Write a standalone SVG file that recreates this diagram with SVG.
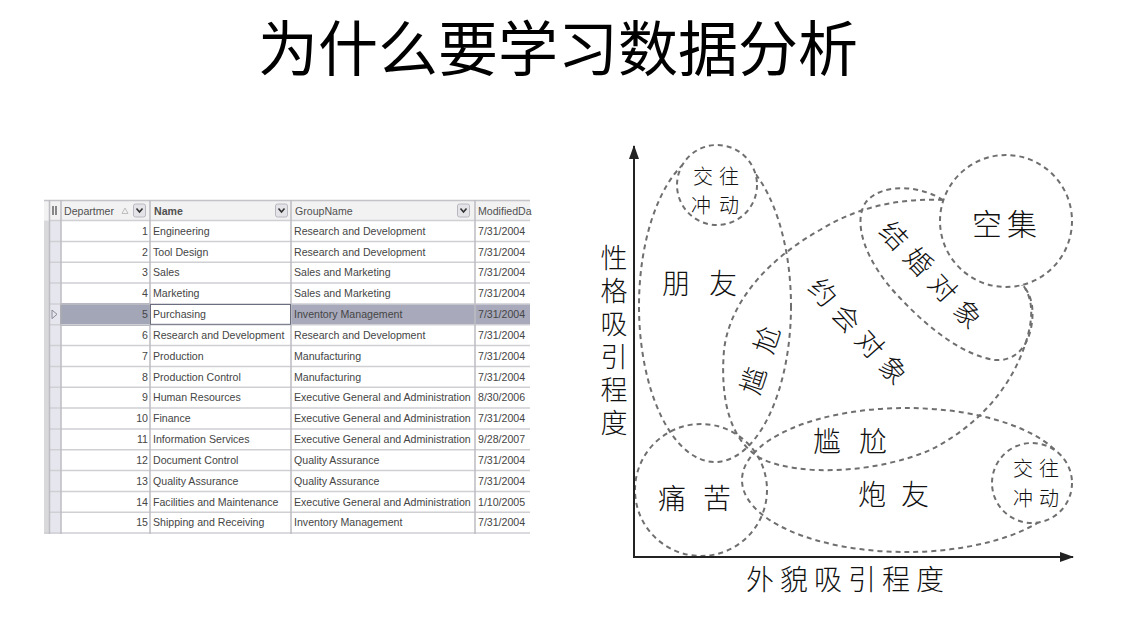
<svg xmlns="http://www.w3.org/2000/svg" width="1135" height="634" viewBox="0 0 1135 634">
<defs>
<style>
.title{font-family:"Noto Sans CJK SC","Noto Sans",sans-serif;font-size:60px;fill:#000;}
.t{font-family:"Liberation Sans",Arial,sans-serif;font-size:10.6px;fill:#454545;}
.n{font-family:"Liberation Sans",Arial,sans-serif;font-size:10.6px;fill:#454545;text-anchor:end;}
.h{font-family:"Liberation Sans",Arial,sans-serif;font-size:10.6px;fill:#505050;}
.grid{stroke:#cfcfd4;stroke-width:1.5;}
.vgrid{stroke:#bdbdc2;stroke-width:1.5;}
.dash{fill:none;stroke:#6f6f6f;stroke-width:2;stroke-dasharray:5 4;}
.dashw{fill:#fff;stroke:#6f6f6f;stroke-width:2;stroke-dasharray:5 4;}
.hw{font-family:"Noto Sans CJK SC","Noto Sans CJK JP",sans-serif;font-weight:300;fill:#111;dominant-baseline:central;text-anchor:middle;}
.vt{font-family:"Noto Sans CJK SC","Noto Sans CJK JP",sans-serif;font-weight:300;fill:#111;writing-mode:vertical-rl;}
.axis{stroke:#222;stroke-width:2;fill:none;}
</style>
<marker id="arr" viewBox="0 0 14 10" refX="13" refY="5" markerWidth="14" markerHeight="10" markerUnits="userSpaceOnUse" orient="auto">
<path d="M0,0 L14,5 L0,10 Z" fill="#222"/>
</marker>
</defs>
<rect width="1135" height="634" fill="#fff"/>

<g id="title"><text class="title" x="558" y="71" text-anchor="middle">为什么要学习数据分析</text></g>

<g id="table">
<rect x="44" y="200" width="486" height="334" fill="#fff"/>
<rect x="44" y="200" width="17" height="334" fill="#e6e7ee"/>
<rect x="44" y="200" width="5" height="334" fill="#d9d9dc"/>
<rect x="44" y="200" width="486" height="20.6" fill="#f2f2f3"/>
<line x1="44" y1="200.5" x2="530" y2="200.5" stroke="#c4c4c8" stroke-width="1.5"/>
<rect x="61" y="303.9" width="89" height="20.9" fill="#a3a6b7" stroke="#5b5e70" stroke-width="1.5"/>
<rect x="291" y="303.9" width="239" height="20.9" fill="#a8aabb"/>
<g class="grid">
<line x1="49" y1="220.6" x2="530" y2="220.6"/>
<line x1="49" y1="241.4" x2="530" y2="241.4"/>
<line x1="49" y1="262.3" x2="530" y2="262.3"/>
<line x1="49" y1="283.1" x2="530" y2="283.1"/>
<line x1="49" y1="303.9" x2="530" y2="303.9"/>
<line x1="49" y1="324.8" x2="530" y2="324.8"/>
<line x1="49" y1="345.6" x2="530" y2="345.6"/>
<line x1="49" y1="366.4" x2="530" y2="366.4"/>
<line x1="49" y1="387.2" x2="530" y2="387.2"/>
<line x1="49" y1="408.1" x2="530" y2="408.1"/>
<line x1="49" y1="428.9" x2="530" y2="428.9"/>
<line x1="49" y1="449.7" x2="530" y2="449.7"/>
<line x1="49" y1="470.6" x2="530" y2="470.6"/>
<line x1="49" y1="491.4" x2="530" y2="491.4"/>
<line x1="49" y1="512.2" x2="530" y2="512.2"/>
<line x1="44" y1="533.0" x2="530" y2="533.0"/>
</g>
<g class="vgrid">
<line x1="49.5" y1="200" x2="49.5" y2="534"/>
<line x1="61" y1="200" x2="61" y2="534"/>
<line x1="150" y1="200" x2="150" y2="534"/>
<line x1="291" y1="200" x2="291" y2="534"/>
<line x1="475" y1="200" x2="475" y2="534"/>
</g>
<rect x="150.5" y="304.5" width="140" height="19.8" fill="none" stroke="#6b6e7e" stroke-width="1"/>
<path d="M52,310 L57,314.3 L52,318.6 Z" fill="none" stroke="#8a8a96" stroke-width="1"/>
<rect x="52" y="206" width="2" height="9" fill="#888"/><rect x="55" y="206" width="2" height="9" fill="#888"/>
<text class="h" x="64" y="214.5">Departmer</text>
<path d="M122,213.5 L125,208 L128,213.5 Z" fill="none" stroke="#b0b0b0" stroke-width="0.8"/>
<rect x="133.5" y="204" width="12" height="13" rx="2" fill="#e4e4e8" stroke="#b8b8c0"/>
<path d="M136.5,208.5 L139.5,212 L142.5,208.5" fill="none" stroke="#333" stroke-width="1.6"/>
<text class="h" x="154" y="214.5" font-weight="bold" fill="#333">Name</text>
<rect x="275.5" y="204" width="12" height="13" rx="2" fill="#e4e4e8" stroke="#b8b8c0"/>
<path d="M278.5,208.5 L281.5,212 L284.5,208.5" fill="none" stroke="#333" stroke-width="1.6"/>
<text class="h" x="295" y="214.5">GroupName</text>
<rect x="457.5" y="204" width="12" height="13" rx="2" fill="#e4e4e8" stroke="#b8b8c0"/>
<path d="M460.5,208.5 L463.5,212 L466.5,208.5" fill="none" stroke="#333" stroke-width="1.6"/>
<text class="h" x="478" y="214.5">ModifiedDa</text>
<text class="n" x="148" y="234.7">1</text><text class="t" x="153" y="234.7">Engineering</text><text class="t" x="294" y="234.7">Research and Development</text><text class="t" x="478" y="234.7">7/31/2004</text>
<text class="n" x="148" y="255.5">2</text><text class="t" x="153" y="255.5">Tool Design</text><text class="t" x="294" y="255.5">Research and Development</text><text class="t" x="478" y="255.5">7/31/2004</text>
<text class="n" x="148" y="276.4">3</text><text class="t" x="153" y="276.4">Sales</text><text class="t" x="294" y="276.4">Sales and Marketing</text><text class="t" x="478" y="276.4">7/31/2004</text>
<text class="n" x="148" y="297.2">4</text><text class="t" x="153" y="297.2">Marketing</text><text class="t" x="294" y="297.2">Sales and Marketing</text><text class="t" x="478" y="297.2">7/31/2004</text>
<text class="n" x="148" y="318.0">5</text><text class="t" x="153" y="318.0">Purchasing</text><text class="t" x="294" y="318.0">Inventory Management</text><text class="t" x="478" y="318.0">7/31/2004</text>
<text class="n" x="148" y="338.9">6</text><text class="t" x="153" y="338.9">Research and Development</text><text class="t" x="294" y="338.9">Research and Development</text><text class="t" x="478" y="338.9">7/31/2004</text>
<text class="n" x="148" y="359.7">7</text><text class="t" x="153" y="359.7">Production</text><text class="t" x="294" y="359.7">Manufacturing</text><text class="t" x="478" y="359.7">7/31/2004</text>
<text class="n" x="148" y="380.5">8</text><text class="t" x="153" y="380.5">Production Control</text><text class="t" x="294" y="380.5">Manufacturing</text><text class="t" x="478" y="380.5">7/31/2004</text>
<text class="n" x="148" y="401.3">9</text><text class="t" x="153" y="401.3">Human Resources</text><text class="t" x="294" y="401.3">Executive General and Administration</text><text class="t" x="478" y="401.3">8/30/2006</text>
<text class="n" x="148" y="422.2">10</text><text class="t" x="153" y="422.2">Finance</text><text class="t" x="294" y="422.2">Executive General and Administration</text><text class="t" x="478" y="422.2">7/31/2004</text>
<text class="n" x="148" y="443.0">11</text><text class="t" x="153" y="443.0">Information Services</text><text class="t" x="294" y="443.0">Executive General and Administration</text><text class="t" x="478" y="443.0">9/28/2007</text>
<text class="n" x="148" y="463.8">12</text><text class="t" x="153" y="463.8">Document Control</text><text class="t" x="294" y="463.8">Quality Assurance</text><text class="t" x="478" y="463.8">7/31/2004</text>
<text class="n" x="148" y="484.7">13</text><text class="t" x="153" y="484.7">Quality Assurance</text><text class="t" x="294" y="484.7">Quality Assurance</text><text class="t" x="478" y="484.7">7/31/2004</text>
<text class="n" x="148" y="505.5">14</text><text class="t" x="153" y="505.5">Facilities and Maintenance</text><text class="t" x="294" y="505.5">Executive General and Administration</text><text class="t" x="478" y="505.5">1/10/2005</text>
<text class="n" x="148" y="526.3">15</text><text class="t" x="153" y="526.3">Shipping and Receiving</text><text class="t" x="294" y="526.3">Inventory Management</text><text class="t" x="478" y="526.3">7/31/2004</text>
</g>

<g id="regions">
<g id="friends"><ellipse class="dash" cx="715" cy="306" rx="76" ry="156"/></g>
<g id="pain"><circle class="dash" cx="701" cy="490" r="66"/></g>
<g id="fwb"><ellipse class="dash" cx="906" cy="480" rx="164" ry="72"/></g>
<g id="dating"><path class="dash" d="M943,200 C905,198 860,205 820,230 C770,258 730,300 724,350 C720,400 730,440 760,458 C800,478 880,472 930,450 C975,428 1010,390 1025,345 C1035,315 1032,298 1023,285 C1000,230 975,205 943,200 Z"/></g>
<g id="marriage"><path class="dash" d="M943,200 C925,188 885,180 866,202 C852,222 865,262 900,298 C930,330 965,356 995,360 C1025,362 1035,330 1032,305 C1030,295 1027,290 1023,286 C1000,250 970,215 943,200 Z"/></g>
<g id="empty"><circle class="dashw" cx="1006" cy="221" r="66"/></g>
<g id="impulse1"><circle class="dashw" cx="717" cy="185" r="40"/></g>
<g id="impulse2"><circle class="dashw" cx="1032" cy="483" r="40"/></g>
</g>

<g id="connectors">
<line class="axis" x1="634" y1="557" x2="634" y2="146" marker-end="url(#arr)"/>
<line class="axis" x1="633" y1="557" x2="1073" y2="557" marker-end="url(#arr)"/>
</g>

<g id="labels">
<text class="hw" font-size="20" x="703" y="175">交</text><text class="hw" font-size="20" x="729" y="175">往</text>
<text class="hw" font-size="20" x="701" y="204">冲</text><text class="hw" font-size="20" x="729" y="204">动</text>
<text class="hw" font-size="28" x="676" y="282">朋</text><text class="hw" font-size="28" x="723" y="282">友</text>
<text class="hw" font-size="30" x="987" y="222">空</text><text class="hw" font-size="30" x="1022" y="222">集</text>
<text class="hw" font-size="27" transform="translate(935,277) rotate(47)" letter-spacing="9">结婚对象</text>
<text class="hw" font-size="27" transform="translate(862,333) rotate(48)" letter-spacing="8">约会对象</text>
<text class="hw" font-size="27" transform="translate(761,352) rotate(-72)" letter-spacing="16">尴尬</text>
<text class="hw" font-size="28" x="827" y="440">尴</text><text class="hw" font-size="28" x="873" y="440">尬</text>
<text class="hw" font-size="28" x="672" y="497">痛</text><text class="hw" font-size="28" x="717" y="497">苦</text>
<text class="hw" font-size="28" x="872" y="493">炮</text><text class="hw" font-size="28" x="915" y="493">友</text>
<text class="hw" font-size="20" x="1023" y="467">交</text><text class="hw" font-size="20" x="1049" y="467">往</text>
<text class="hw" font-size="20" x="1023" y="497">冲</text><text class="hw" font-size="20" x="1049" y="497">动</text>
<g id="ylabel"><text class="vt" font-size="27" x="614" y="244" letter-spacing="6">性格吸引程度</text></g>
<g id="xlabel"><text class="hw" font-size="28" x="848" y="578" letter-spacing="6">外貌吸引程度</text></g>
</g>
</svg>
